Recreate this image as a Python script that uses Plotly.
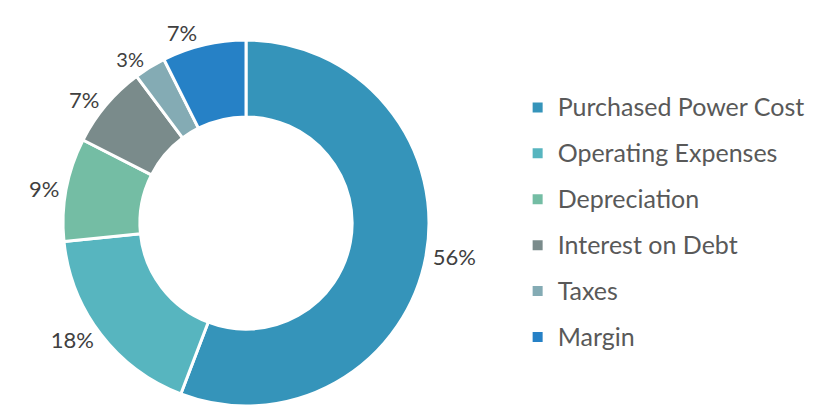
import plotly.graph_objects as go

labels = ["Purchased Power Cost", "Operating Expenses", "Depreciation",
          "Interest on Debt", "Taxes", "Margin"]
values = [55.8, 17.6, 9.1, 7.3, 2.8, 7.4]
colors = ["#3594BA", "#57B5BF", "#74BDA4", "#7A8B8B", "#84ABB4", "#2681C6"]
label_sizes = [22, 22, 22, 22, 20, 22]

# legend entries: larger legend font gives the wide row spacing, the span sets the visible size
legend_labels = [f"<span style='font-size:25px;baseline-shift:4px'>{t}</span>" for t in labels]

fig = go.Figure(go.Pie(
    labels=legend_labels,
    values=values,
    hole=0.58,
    sort=False,
    direction="clockwise",
    rotation=0,
    marker=dict(colors=colors, line=dict(color="white", width=3)),
    textinfo="percent",
    texttemplate="%{percent:.0%}",
    textposition="outside",
    textfont=dict(family="Lato", size=label_sizes, color="#404040"),
    domain=dict(x=[0.0669, 0.5122], y=[0.0221, 0.9212]),
    hoverinfo="percent",
))

fig.update_layout(
    width=822, height=407,
    margin=dict(l=0, r=0, t=0, b=0, autoexpand=False),
    paper_bgcolor="white",
    plot_bgcolor="white",
    showlegend=True,
    legend=dict(
        x=0.620, y=0.473, xanchor="left", yanchor="middle",
        font=dict(family="Lato", size=33, color="#595959"),
        itemsizing="constant",
    ),
)

fig.write_html("out.html")
